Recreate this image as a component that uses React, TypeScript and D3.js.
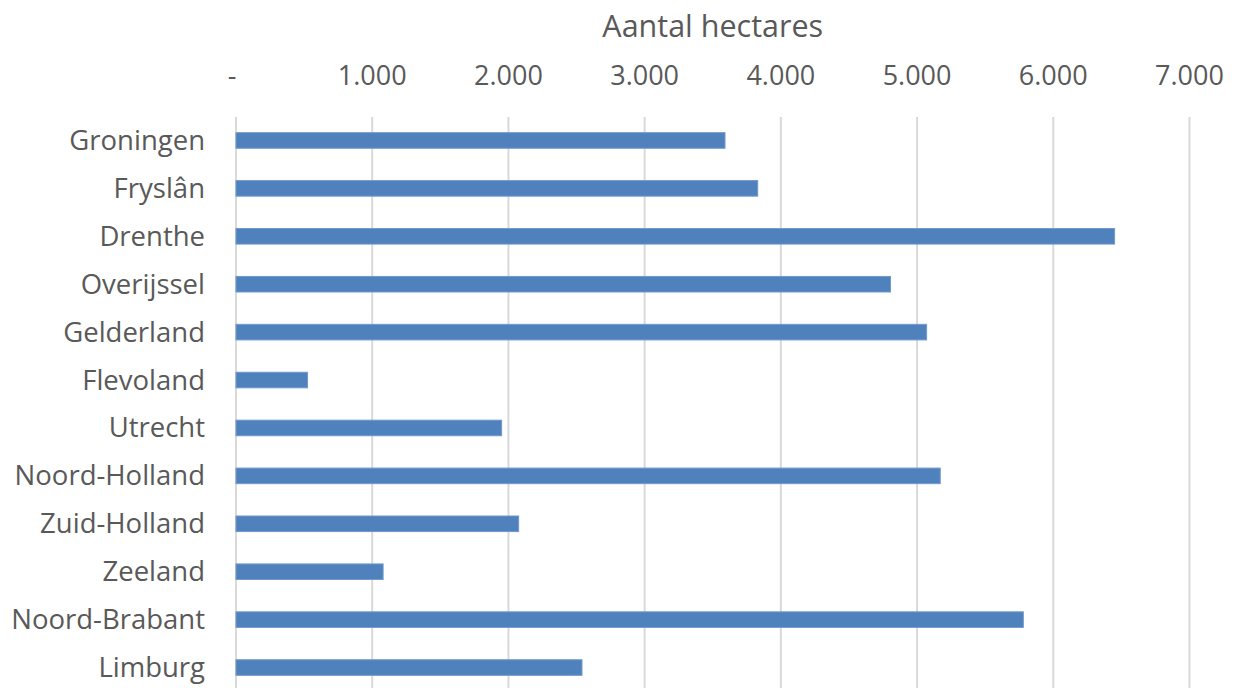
import React from "react";
import * as d3 from "d3";

// Provinces, top to bottom
const provinces = [
  "Groningen",
  "Fryslân",
  "Drenthe",
  "Overijssel",
  "Gelderland",
  "Flevoland",
  "Utrecht",
  "Noord-Holland",
  "Zuid-Holland",
  "Zeeland",
  "Noord-Brabant",
  "Limburg",
];

// Hectares per province
const hectares = [3590, 3830, 6450, 4805, 5070, 525, 1950, 5170, 2075, 1080, 5780, 2540];

// Axis ticks and their labels
const tickValues = [0, 1000, 2000, 3000, 4000, 5000, 6000, 7000];
const tickLabels = ["-", "1.000", "2.000", "3.000", "4.000", "5.000", "6.000", "7.000"];

const axisTitle = "Aantal hectares";

const W = 1238;
const H = 688;
const FONT = "'Open Sans', Lato, sans-serif";
const TEXT = "#595959";

export default function App() {
  const x = d3.scaleLinear().domain([0, 7000]).range([236, 1189.5]);
  const y = d3
    .scaleBand<string>()
    .domain(provinces)
    .range([116.5, 691.5])
    .paddingInner(0.675)
    .paddingOuter(0.3375);

  const rows = provinces.map((p, i) => ({ name: p, value: hectares[i] }));

  return (
    <svg
      width={W}
      height={H}
      viewBox={`0 0 ${W} ${H}`}
      style={{ position: "absolute", left: 0, top: 0, background: "#fff" }}
    >
      <rect x={0} y={0} width={W} height={H} fill="#ffffff" />

      {/* axis title */}
      <text
        x={(x(0) + x(7000)) / 2}
        y={37}
        textAnchor="middle"
        fontFamily={FONT}
        fontSize={30.5}
        fill={TEXT}
      >
        {axisTitle}
      </text>

      {/* vertical gridlines */}
      {tickValues.map((t) => (
        <line
          key={"g" + t}
          x1={x(t)}
          x2={x(t)}
          y1={117}
          y2={H + 10}
          stroke="#d9d9d9"
          strokeWidth={2}
        />
      ))}

      {/* tick labels along the top */}
      {tickValues.map((t, i) => (
        <text
          key={"t" + t}
          x={t === 0 ? x(t) - 4 : x(t)}
          y={85}
          textAnchor="middle"
          fontFamily={FONT}
          fontSize={27}
          fill={TEXT}
        >
          {tickLabels[i]}
        </text>
      ))}

      {/* bars */}
      {rows.map((r) => (
        <rect
          key={"b" + r.name}
          x={x(0)}
          y={y(r.name)!}
          width={x(r.value) - x(0)}
          height={y.bandwidth()}
          fill="#4f81bd"
          stroke="#7199cc"
          strokeWidth={1}
        />
      ))}

      {/* category labels */}
      {rows.map((r) => (
        <text
          key={"l" + r.name}
          x={205}
          y={y(r.name)! + y.bandwidth() / 2 + 9.5}
          textAnchor="end"
          fontFamily={FONT}
          fontSize={27.5}
          fill={TEXT}
        >
          {r.name}
        </text>
      ))}
    </svg>
  );
}
